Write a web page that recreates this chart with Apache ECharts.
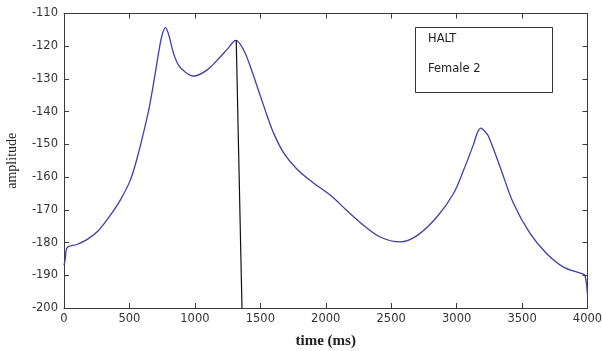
<!DOCTYPE html>
<html>
<head>
<meta charset="utf-8">
<script src="https://cdn.jsdelivr.net/npm/echarts@6/dist/echarts.min.js"></script>
<style>html,body{margin:0;padding:0;background:#fff;}#c{width:602px;height:351px;}</style>
</head>
<body>
<div id="c"></div>
<script>
var timeMs = [0, 10, 25, 98, 175, 264, 353, 429, 506, 560, 610, 650, 690, 725, 750, 775, 800, 837, 875, 926, 990, 1092, 1193, 1250, 1313, 1371, 1435, 1490, 1550, 1601, 1677, 1779, 1906, 2034, 2161, 2288, 2416, 2569, 2700, 2849, 2976, 3052, 3129, 3160, 3185, 3210, 3243, 3333, 3434, 3562, 3689, 3817, 3957, 3980, 4000];
var amplitude = [-187, -185, -181.5, -180.6, -179.1, -176.3, -171.7, -167.1, -161, -154, -146, -139, -130, -121.5, -116.5, -114.3, -116.5, -122.2, -125.8, -127.9, -129.1, -127.3, -123.3, -120.8, -118.2, -121, -127.5, -134, -141, -146.5, -152.5, -157.5, -161.8, -165.5, -170.2, -174.7, -178.3, -179.8, -177.8, -172.2, -165, -158, -150, -146.3, -145, -145.8, -147.5, -157, -168, -177.3, -183.4, -187.5, -189.5, -190, -196];
var markerTime = [1316, 1360];
var markerAmp = [-118.2, -200];
var xTicks = [0, 500, 1000, 1500, 2000, 2500, 3000, 3500, 4000];
var yTicks = [-200, -190, -180, -170, -160, -150, -140, -130, -120, -110];
var annotation = ['HALT', 'Female 2'];

var chart = echarts.init(document.getElementById('c'), null, {renderer: 'canvas'});
var axisColor = '#3a3a3a';
var labelFont = {fontFamily: 'DejaVu Sans', fontSize: 11.5, color: '#333', formatter: function (v) { return String(v); }};
function xAx(pos, show) {
  return {
    type: 'value', position: pos, min: xTicks[0], max: xTicks[xTicks.length - 1], interval: 500,
    axisLine: {show: true, onZero: false, lineStyle: {color: axisColor, width: 1}},
    axisTick: {show: true, inside: true, length: 5, lineStyle: {color: axisColor}},
    axisLabel: Object.assign({show: show, margin: 5}, labelFont),
    splitLine: {show: false},
    name: show ? 'time (ms)' : '', nameLocation: 'middle', nameGap: 26,
    nameTextStyle: {fontFamily: 'Liberation Serif', fontSize: 15, fontWeight: 'bold', color: '#222'}
  };
}
function yAx(pos, show) {
  return {
    type: 'value', position: pos, min: yTicks[0], max: yTicks[yTicks.length - 1], interval: 10,
    axisLine: {show: true, onZero: false, lineStyle: {color: axisColor, width: 1}},
    axisTick: {show: true, inside: true, length: 5, lineStyle: {color: axisColor}},
    axisLabel: Object.assign({show: show, margin: 6}, labelFont),
    splitLine: {show: false},
    name: show ? 'amplitude' : '', nameLocation: 'middle', nameGap: 45,
    nameTextStyle: {fontFamily: 'Liberation Serif', fontSize: 14, color: '#222'}
  };
}
var curve = timeMs.map(function (t, i) { return [t, amplitude[i]]; });
var marker = markerTime.map(function (t, i) { return [t, markerAmp[i]]; });
chart.setOption({
  animation: false,
  backgroundColor: '#fff',
  grid: {left: 64, right: 14.5, top: 13.5, bottom: 43, containLabel: false, outerBoundsMode: 'none'},
  xAxis: [xAx('bottom', true), xAx('top', false)],
  yAxis: [yAx('left', true), yAx('right', false)],
  series: [
    {type: 'line', data: curve, smooth: 0.35, showSymbol: false, lineStyle: {color: '#3f3fa6', width: 1.3}, z: 3},
    {type: 'line', data: marker, showSymbol: false, lineStyle: {color: '#111', width: 1.2}, z: 4}
  ],
  graphic: [
    {type: 'rect', shape: {x: 415.5, y: 27.5, width: 137, height: 65}, style: {fill: '#fff', stroke: '#333', lineWidth: 1}, z: 10},
    {type: 'text', x: 428, y: 39, style: {text: annotation[0], fontFamily: 'DejaVu Sans', fontSize: 11.5, fill: '#222', verticalAlign: 'middle'}, z: 11},
    {type: 'text', x: 428, y: 69, style: {text: annotation[1], fontFamily: 'DejaVu Sans', fontSize: 11.5, fill: '#222', verticalAlign: 'middle'}, z: 11}
  ]
});
</script>
</body>
</html>
